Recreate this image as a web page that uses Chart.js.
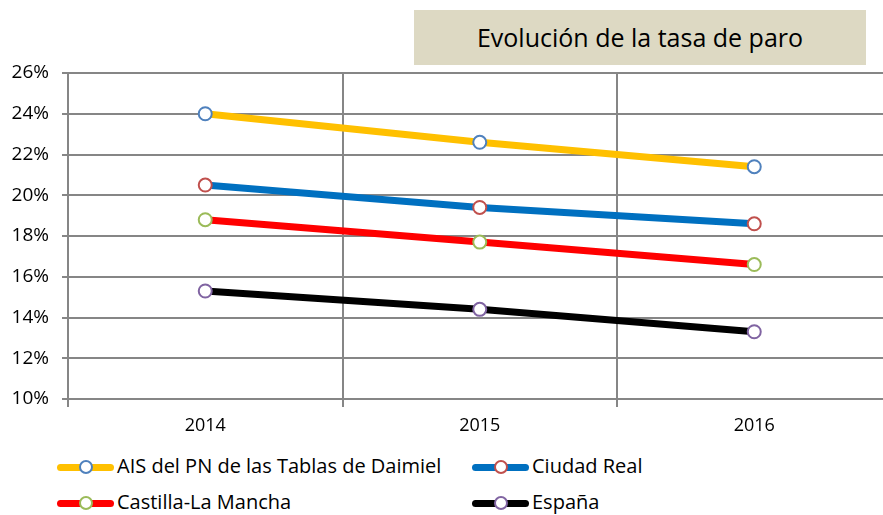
<!DOCTYPE html>
<html>
<head>
<meta charset="utf-8">
<script src="https://cdn.jsdelivr.net/npm/chart.js@4.4.0/dist/chart.umd.min.js"></script>
<style>
  html, body { margin: 0; padding: 0; background: #fff; overflow: hidden; }
  body { width: 883px; height: 515px; position: relative; font-family: "Open Sans", "Noto Sans", sans-serif; }
  #wrap { position: absolute; left: 0; top: 0; width: 900px; height: 450px; }
  #titulo { position: absolute; left: 414px; top: 10px; width: 452px; height: 55px; background: #DDD9C3;
    font-size: 25px; line-height: 55px; text-align: center; color: #000; }
  .leg { position: absolute; height: 20px; font-size: 20px; line-height: 20px; color: #000; white-space: nowrap; }
  .leg .ln { position: absolute; top: 7px; height: 7px; border-radius: 4px; }
  .leg .mk { position: absolute; top: 3px; width: 10px; height: 10px; border-radius: 50%; background: #fff; border: 2px solid; }
  .leg .tx { position: absolute; top: -1px; }
</style>
</head>
<body>
<div id="wrap"><canvas id="paro"></canvas></div>
<div id="titulo">Evolución de la tasa de paro</div>
<div id="legend"></div>
<script>
const years = ['2014', '2015', '2016'];
const seriesNames = ['AIS del PN de las Tablas de Daimiel', 'Ciudad Real', 'Castilla-La Mancha', 'España'];
const aisDaimiel = [24.0, 22.6, 21.4];
const ciudadReal = [20.5, 19.4, 18.6];
const castillaLaMancha = [18.8, 17.7, 16.6];
const espana = [15.3, 14.4, 13.3];
const lineColors = ['#FFC000', '#0070C0', '#FF0000', '#000000'];
const markerColors = ['#4F81BD', '#C0504D', '#9BBB59', '#8064A2'];

const allValues = [aisDaimiel, ciudadReal, castillaLaMancha, espana];
const gridColor = '#868686';

const ctx = document.getElementById('paro');
new Chart(ctx, {
    type: 'line',
    data: {
        labels: years,
        datasets: allValues.map(function(vals, i) {
            return {
                label: seriesNames[i],
                data: vals,
                borderColor: lineColors[i],
                borderWidth: 7,
                tension: 0,
                pointRadius: 6.5,
                pointBorderWidth: 2,
                pointBackgroundColor: '#fff',
                pointBorderColor: markerColors[i]
            };
        })
    },
    options: {
        responsive: true,
        maintainAspectRatio: false,
        animation: false,
        layout: { padding: { top: 73, right: 7, left: 0, bottom: 0 } },
        plugins: {
            legend: { display: false },
            tooltip: { enabled: false }
        },
        scales: {
            x: {
                offset: true,
                grid: { offset: true, color: gridColor, lineWidth: 2, tickLength: 8 },
                border: { color: gridColor, width: 2 },
                ticks: { color: '#000', font: { family: 'Open Sans', size: 18 }, padding: 8 },
                afterFit: function(scale) { scale.height = 51; }
            },
            y: {
                min: 10,
                max: 26,
                grid: { color: gridColor, lineWidth: 2, tickLength: 6 },
                border: { color: gridColor, width: 2 },
                ticks: {
                    stepSize: 2,
                    color: '#000',
                    font: { family: 'Open Sans', size: 19 },
                    padding: 13,
                    callback: function(v) { return v + '%'; }
                },
                afterFit: function(scale) { scale.width = 68; }
            }
        }
    }
});

// legend in two aligned columns
const legPos = [[57, 467], [472, 467], [57, 503], [472, 503]];
const legend = document.getElementById('legend');
seriesNames.forEach(function(name, i) {
    const item = document.createElement('div');
    item.className = 'leg';
    item.style.left = legPos[i][0] + 'px';
    item.style.top = (legPos[i][1] - 10) + 'px';
    item.innerHTML = '<div class="ln" style="left:0;width:57px;background:' + lineColors[i] + '"></div>' +
        '<div class="mk" style="left:22px;border-color:' + markerColors[i] + '"></div>' +
        '<div class="tx" style="left:60px">' + name + '</div>';
    legend.appendChild(item);
});
</script>
</body>
</html>
